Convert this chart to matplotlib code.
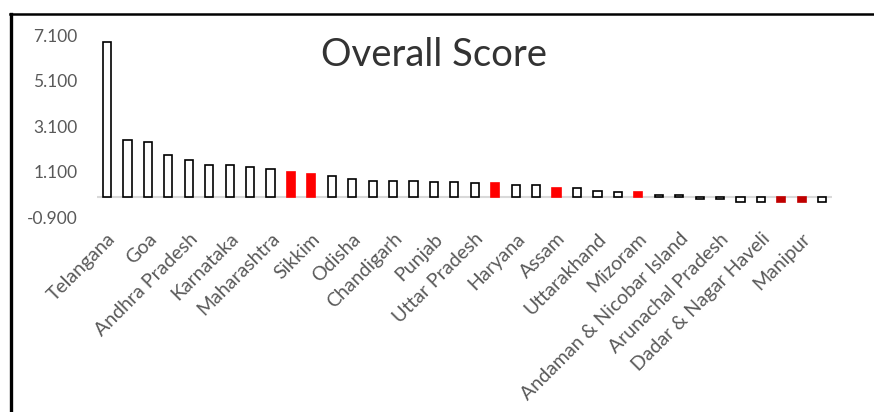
import matplotlib
matplotlib.use("Agg")
import matplotlib.pyplot as plt
from matplotlib.lines import Line2D

# Overall score per state / UT, sorted high to low
scores = [6.80, 2.52, 2.40, 1.82, 1.61, 1.42, 1.42, 1.32, 1.23, 1.11,
          1.03, 0.91, 0.81, 0.72, 0.72, 0.70, 0.66, 0.66, 0.63, 0.63,
          0.53, 0.53, 0.41, 0.40, 0.27, 0.20, 0.20, 0.08, 0.08, -0.10,
          -0.10, -0.22, -0.22, -0.22, -0.22, -0.22]

# 0 = normal, 1 = highlighted, 2 = highlighted (dark)
highlight = [0, 0, 0, 0, 0, 0, 0, 0, 0, 1,
             1, 0, 0, 0, 0, 0, 0, 0, 0, 1,
             0, 0, 1, 0, 0, 0, 1, 0, 0, 0,
             0, 0, 0, 2, 2, 0]

# only every second category gets a label on the axis
shown_labels = ["Telangana", "Goa", "Andhra Pradesh", "Karnataka", "Maharashtra",
                "Sikkim", "Odisha", "Chandigarh", "Punjab", "Uttar Pradesh",
                "Haryana", "Assam", "Uttarakhand", "Mizoram",
                "Andaman & Nicobar Island", "Arunachal Pradesh",
                "Dadar & Nagar Haveli", "Manipur"]

y_ticks = [-0.9, 1.1, 3.1, 5.1, 7.1]

plt.rcParams['font.family'] = ['Lato', 'DejaVu Sans']

fig = plt.figure(figsize=(8.74, 4.12), dpi=100)
ax = fig.add_axes([0.1108, 0.472, 0.8416, 0.443])

fills = {0: 'white', 1: '#FF0000', 2: '#C00000'}
edges = {0: 'black', 1: '#FF0000', 2: '#C00000'}
x = list(range(len(scores)))
ax.bar(x, scores, width=0.4,
       color=[fills[h] for h in highlight],
       edgecolor=[edges[h] for h in highlight],
       linewidth=1.2, zorder=3)

ax.axhline(0, color='#D9D9D9', linewidth=1.5, zorder=2)

ax.set_xlim(-0.5, len(scores) - 0.5)
ax.set_ylim(-0.9, 7.1)
ax.set_yticks(y_ticks)
ax.set_yticklabels([f"{v:.3f}" for v in y_ticks])
ax.set_xticks(x[::2])
ax.set_xticklabels(shown_labels, rotation=45, ha='right', va='top',
                   rotation_mode='anchor')

ax.tick_params(axis='y', length=0, pad=14, labelsize=12.5, labelcolor='#595959')
ax.tick_params(axis='x', length=0, pad=9, labelsize=14, labelcolor='#595959')
for side in ax.spines.values():
    side.set_visible(False)
ax.patch.set_alpha(0)

fig.text(0.497, 0.866, "Overall Score", ha='center', va='center',
         fontsize=27.5, color='#333333')

# outer frame: thick left edge and top edge
fig.add_artist(Line2D([0.0125, 0.0125], [0.0, 0.966], color='black',
                      linewidth=2.4, transform=fig.transFigure))
fig.add_artist(Line2D([0.011, 1.0], [0.966, 0.966], color='black',
                      linewidth=1.8, transform=fig.transFigure))

fig.savefig("out.png", dpi=100)
